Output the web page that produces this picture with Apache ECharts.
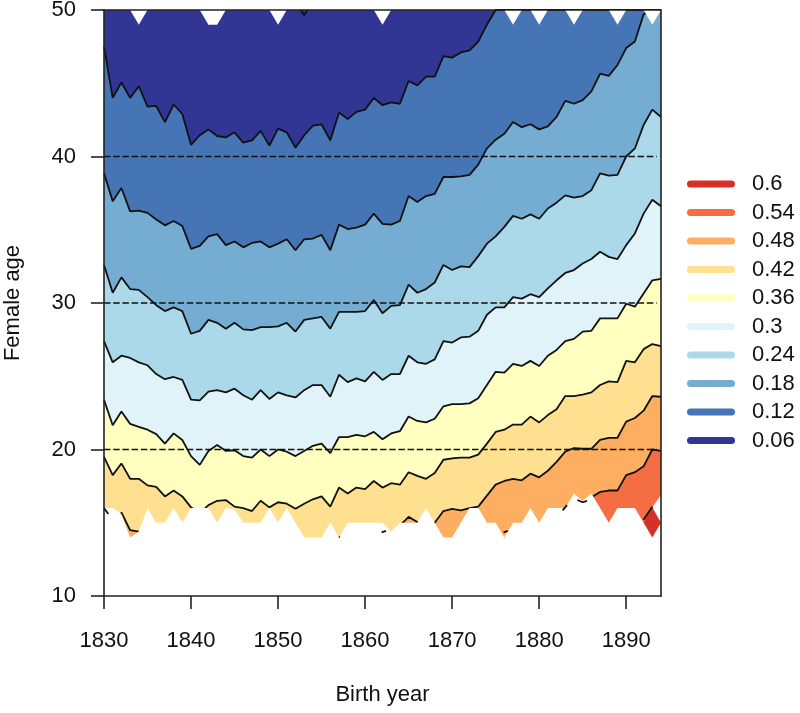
<!DOCTYPE html>
<html>
<head>
<meta charset="utf-8">
<script src="https://cdn.jsdelivr.net/npm/echarts@6/dist/echarts.min.js"></script>
<style>html,body{margin:0;padding:0;background:#fff}#c{width:800px;height:713px}</style>
</head>
<body>
<div id="c"></div>
<script>
var firstYear = 1830;
var xTicks = [1830,1840,1850,1860,1870,1880,1890];
var yTicks = [10,20,30,40,50];
var dashedAges = [20,30,40];
var legendLabels = ['0.6','0.54','0.48','0.42','0.36','0.3','0.24','0.18','0.12','0.06'];
var legendColors = ['#D73027','#F46D43','#FDAE61','#FEE090','#FFFFBF','#E0F3F8','#ABD9E9','#74ADD1','#4575B4','#313695'];

// Contour boundaries: female age per birth year (1830..1894)
var c006 = [47.5,44,45.05,44,44.8,43.4,43.45,42.35,43.55,42.9,
40.8,41.45,41.85,41.4,41.3,41.65,40.95,41.1,41.75,40.75,
41.9,41.65,40.6,41.45,42.1,42.2,41.1,43,42.55,43.05,
43.2,44,43.5,43.7,43.6,45.15,44.85,45.45,45.45,46.85,
46.75,47.1,47.25,47.85,49,50,50,50,50,50,
50,50,50,50,50,50,50,50,50,50,
50,50,50,50,50];
var c012 = [38.85,36.95,37.85,36.25,36.3,36.15,35.7,35.3,35.6,35.25,
33.7,33.9,34.55,34.7,33.95,34.2,33.8,34.1,34.2,33.8,
34.05,34.35,33.6,34.35,34.4,34.65,33.6,35.35,35.05,35.15,
35.35,36.1,35.4,35.35,35.6,37.3,36.9,37.3,37.45,38.6,
38.6,38.65,38.75,39.45,40.55,41.15,41.55,42.35,42,42.2,
41.85,42.05,42.7,43.8,43.6,43.85,44.45,45.65,45.5,46.25,
47.4,47.85,49.7,50,50];
var c018 = [32.6,30.7,31.75,30.95,30.9,30.4,29.85,29.45,29.7,29.45,
27.9,28.1,28.85,28.65,28.25,28.65,28.2,28.15,28.35,28.35,
28.4,28.65,28.05,28.85,28.95,29.05,28.25,29.4,29.4,29.4,
29.45,30.2,29.3,29.8,29.85,31.25,30.7,30.95,31.4,32.6,
32.25,32.5,32.45,33.2,34.05,34.55,35.2,35.95,35.75,36.05,
35.75,36.45,36.85,37.35,37.2,37.3,37.7,38.85,38.7,38.75,
40,40.55,42.15,43.2,42.7];
var c024 = [27.4,25.95,26.4,26.25,25.95,25.75,25.15,24.8,24.95,24.75,
23.4,23.35,23.95,24.05,23.9,24.15,23.7,23.4,24.05,23.45,
23.9,23.7,23.55,24.05,24.4,24.4,23.6,25.1,24.6,24.85,
24.65,25.3,24.75,25.15,25.15,26.4,25.95,25.85,26.15,27.4,
27.3,27.65,27.7,28.1,29.2,29.7,29.7,30.4,30.3,30.6,
30.4,31,31.55,32.05,32.25,32.7,33,33.5,33.15,33,
33.95,34.75,36.1,37.05,36.6];
var c030 = [23.4,21.65,22.6,21.75,21.55,21.35,21.05,20.4,21.1,20.65,
19.55,18.95,19.9,20.3,19.9,19.95,19.55,19.45,20,19.55,
20,19.85,19.55,19.9,20.25,20.4,19.75,20.85,20.85,21,
20.9,21.2,20.7,21.1,21.25,22.25,21.95,21.85,22.1,22.95,
23.1,23.1,23.15,23.5,24.4,25.3,25.25,25.85,25.7,26.05,
25.7,26.4,26.8,27.4,27.55,28.05,28.1,28.95,28.95,28.95,
29.95,29.75,30.65,31.55,31.65];
var c036 = [19.5,18.25,19.05,18,18,17.55,17.45,16.8,17.2,16.8,
16.05,15.65,16.2,16.5,16.55,16.1,16,15.8,16.5,16.05,
16.4,16.3,15.95,16.3,16.6,16.8,16.1,17.4,17,17.4,
17.3,17.85,17.4,17.7,17.6,18.45,18.2,18,18.4,19.3,
19.4,19.45,19.45,19.65,20.4,21.2,21.35,21.7,21.7,22.25,
21.85,22.35,22.75,23.65,23.65,23.75,23.9,24.4,24.65,24.6,
26.05,25.95,26.85,27.2,27.05];
var c042 = [14,14,15.7,14.5,14.4,13.5,13.5,13.5,13.5,13.5,
13.5,13.5,13.5,13.5,13.5,13.5,13.5,13.5,13.5,13.5,
13.5,13.5,13.5,13.5,13.5,13.5,13.5,13.5,13.5,13.5,
13.5,13.5,13.5,13.5,14.8,15.4,15.05,14.5,15,15.8,
15.95,15.85,16,16.1,16.85,17.6,17.85,18,17.9,18.35,
18.1,18.55,19.15,19.85,20.1,20.05,20.05,20.65,20.8,20.8,
21.9,22.15,22.65,23.65,23.6];
var c048 = [13,13,13,13,13,13,13,13,13,13,
13,13,13,13,13,13,13,13,13,13,
13,13,13,13,13,13,13,13,13,13,
13,13,13,13,13,13,13,13,13,13,
13,13,13,13,13,13,13,13,13,13,
13,13,13,15.9,16.6,16.4,16.74,17.1,17.2,17.2,
18.25,18.45,18.85,20,19.9];
var plotFloor = [[1830,10],[1894,10]];
var c054 = [[1892,15],[1893,16.05],[1894,15]];
var rightGap = [[1893,16.05],[1894,16.9]];
// Lower and upper edge of the data surface
var lowerEdge = [16,16,15.6,14,14.4,16,15,15,16,15,
16,16,16,15,16,15.9,15,15,15,16,
15,16,15,14,14,14,15,14,15,15,
15,15,15,14.4,15,15,15,16,15,14,
14,15,16,16,15,15,14,15,15,16,
15,16,16,16,17,16.5,17,16,15,16,
16,16,15,14,15];
var upperEdge = [50,50,50,50,49,50,50,50,50,50,
50,50,49,49,50,50,50,50,50,50,
49,50,50,50,50,50,50,50,50,50,
50,50,49,50,50,50,50,50,50,50,
50,50,50,50,50,50,50,49,50,50,
49,50,50,50,49,50,50,50,50,49,
50,50,50,49,50];
// Small contour pieces
var fragments = [
  [[1852.6,50],[1853,49.65],[1853.4,50]],
  [[1830,16],[1830.5,15.6]],
  [[1857,14.05],[1857.1,14]],
  [[1861.9,14.35],[1862.4,14.45]],
  [[1875.9,14.35],[1876.4,14.45]],
  [[1882.7,15.85],[1883.2,16.2]],
  [[1884.4,16.55],[1885,16.4],[1885.5,16.5]],
  [[1892,15.2],[1893,16.1]]
];

function pairs(arr){ return arr.map(function(v,i){ return [firstYear+i, v]; }); }
var ink = '#111';
var order = 2;
function band(name, color, data, lineW){
  return {name:name, type:'line', data:data, symbol:'none', silent:true, animation:false, z:order++,
    color:color, itemStyle:{color:color},
    lineStyle:{color:ink, width:lineW}, areaStyle:{origin:'end', color:color, opacity:1}};
}
function white(data, origin){
  return {type:'line', data:data, symbol:'none', silent:true, animation:false, z:order++,
    lineStyle:{width:0}, areaStyle:{origin:origin, color:'#fff', opacity:1}};
}
var series = [
  band('0.54', legendColors[1], plotFloor, 0),
  band('0.48', legendColors[2], pairs(c048), 1.8),
  band('0.42', legendColors[3], pairs(c042), 1.8),
  band('0.36', legendColors[4], pairs(c036), 1.8),
  band('0.3',  legendColors[5], pairs(c030), 1.8),
  band('0.24', legendColors[6], pairs(c024), 1.8),
  band('0.18', legendColors[7], pairs(c018), 1.8),
  band('0.12', legendColors[8], pairs(c012), 1.8),
  band('0.06', legendColors[9], pairs(c006), 1.8),
  white(rightGap,'start'),
  {name:'0.6', type:'line', data:c054, symbol:'none', silent:true, animation:false, z:order++,
   color:legendColors[0], itemStyle:{color:legendColors[0]},
   lineStyle:{width:0}, areaStyle:{origin:'start', color:legendColors[0], opacity:1}},
  white(pairs(lowerEdge),'start'),
  white(pairs(upperEdge),'end')
];
fragments.forEach(function(f){
  series.push({type:'line', data:f, symbol:'none', silent:true, animation:false, z:order,
    lineStyle:{color:ink, width:1.8}});
});
order++;
dashedAges.forEach(function(a){
  series.push({type:'line', data:[[1830,a],[1893.5,a]], symbol:'none', silent:true, animation:false, z:order,
    lineStyle:{color:ink, width:1.6, type:[6.5,2.7]}});
});
order++;

var font = 'Liberation Sans';
var lab = {fontFamily:font, fontSize:22, color:'#111'};
var axisLine = {show:true, onZero:false, lineStyle:{color:'#222', width:1.6}};
var stadium = 'path://M3.5,0H44.5A3.5,3.5 0 0 1 44.5,7H3.5A3.5,3.5 0 0 1 3.5,0Z';

var chart = echarts.init(document.getElementById('c'), null, {renderer:'canvas'});
chart.setOption({
  animation:false,
  backgroundColor:'#fff',
  grid:{left:104, right:139, top:10, bottom:117, containLabel:false, outerBoundsMode:'none'},
  legend:{
    left:687, top:173, orient:'vertical', padding:0, itemWidth:48, itemHeight:7, itemGap:6.5,
    selectedMode:false,
    textStyle:{fontFamily:font, fontSize:22, lineHeight:21, color:'#111', padding:[0,0,0,12]},
    data:legendLabels.map(function(n,i){
      return {name:n, icon:stadium, itemStyle:{color:legendColors[i]}};
    })
  },
  xAxis:[
    {type:'value', min:1830, max:1894, z:order, position:'bottom',
     name:'Birth year', nameLocation:'middle', nameGap:88,
     nameTextStyle:{fontFamily:font, fontSize:22, color:'#111'},
     axisLine:axisLine, splitLine:{show:false},
     axisTick:{show:true, length:13, customValues:xTicks, lineStyle:{color:'#222', width:1.6}},
     axisLabel:Object.assign({show:true, margin:34, customValues:xTicks, formatter:function(v){return String(v);}}, lab)},
    {type:'value', min:1830, max:1894, z:order, position:'top',
     axisLine:axisLine, splitLine:{show:false}, axisTick:{show:false}, axisLabel:{show:false}}
  ],
  yAxis:[
    {type:'value', min:10, max:50, interval:10, z:order, position:'left',
     name:'Female age', nameLocation:'middle', nameGap:80, nameRotate:90,
     nameTextStyle:{fontFamily:font, fontSize:22, color:'#111'},
     axisLine:axisLine, splitLine:{show:false},
     axisTick:{show:true, length:13, customValues:yTicks, lineStyle:{color:'#222', width:1.6}},
     axisLabel:Object.assign({show:true, margin:28, customValues:yTicks}, lab)},
    {type:'value', min:10, max:50, interval:10, z:order, position:'right',
     axisLine:axisLine, splitLine:{show:false}, axisTick:{show:false}, axisLabel:{show:false}}
  ],
  series:series
});
</script>
</body>
</html>
